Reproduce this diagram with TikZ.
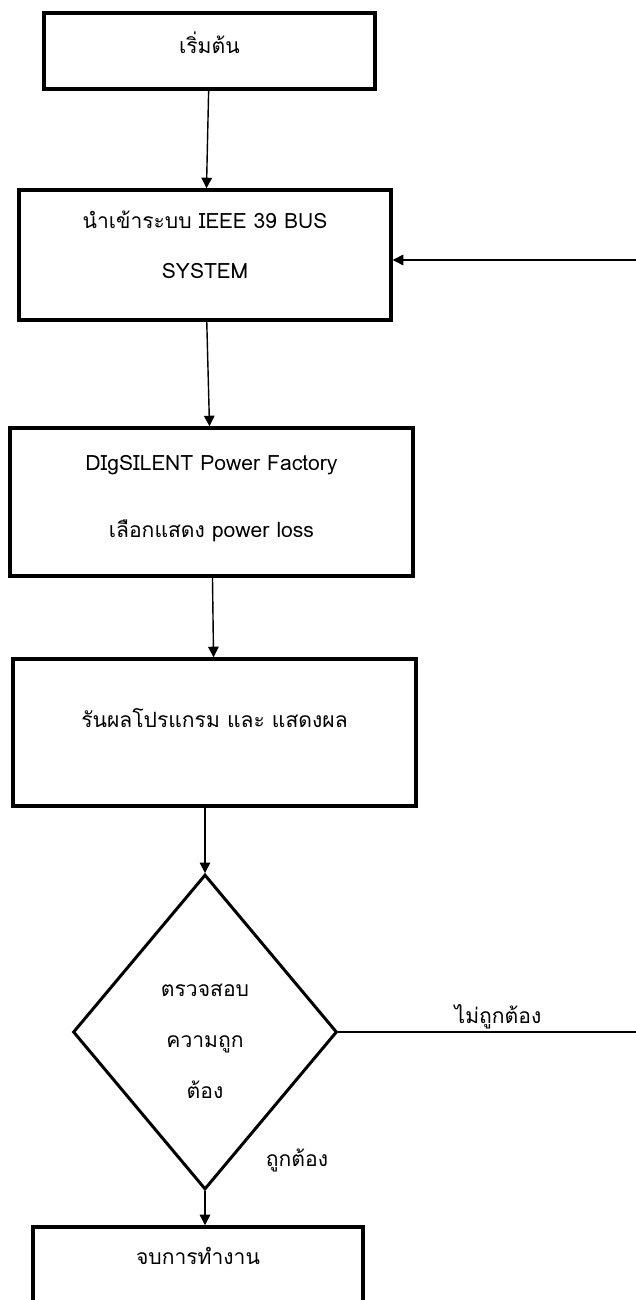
\documentclass[tikz,border=0pt]{standalone}
\usepackage{fontspec}
\setmainfont[Script=Thai]{Loma}
\usetikzlibrary{shapes.geometric,arrows.meta}
\tikzset{
  flowbox/.style={draw, line width=2pt, rectangle, align=center, inner sep=0pt, font=\fontsize{12}{14.4}\selectfont},
  flowdecide/.style={draw, line width=1.7pt, diamond, align=center, inner sep=0pt, font=\fontsize{12}{14.4}\selectfont},
  flowarrow/.style={line width=0.8pt, -{Triangle[length=6pt,width=6pt]}},
  flowlabel/.style={font=\fontsize{12}{14.4}\selectfont}
}

\begin{document}
\begin{tikzpicture}[x=0.02cm, y=-0.02cm]
  \useasboundingbox (0,0) rectangle (635,1300);
  \node[flowbox, minimum width=6.62cm, minimum height=1.52cm, text depth=9pt]
    (start) at (209.5,51) {เริ่มต้น};
  \node[flowbox, minimum width=7.44cm, minimum height=2.6cm, text depth=12pt]
    (import) at (205,255) {นำเข้าระบบ IEEE 39 BUS\\[14pt]SYSTEM};
  \node[flowbox, minimum width=8.06cm, minimum height=2.96cm, text depth=6.5pt]
    (digsilent) at (211.5,502) {DIgSILENT Power Factory\\[24pt]เลือกแสดง power loss};
  \node[flowbox, minimum width=8.06cm, minimum height=2.94cm, text depth=16.5pt]
    (run) at (214.5,732.5) {รันผลโปรแกรม และ แสดงผล};
  \node[flowdecide, minimum width=5.28cm, minimum height=6.3cm]
    (check) at (205,1032) {\rule{0pt}{18pt}ตรวจสอบ\\[14.5pt]ความถูก\\[14.5pt]ต้อง};
  \node[flowbox, minimum width=6.6cm, minimum height=1.52cm, text depth=10pt]
    (finish) at (198,1265) {จบการทำงาน};
  \coordinate (back) at (640,260);

  \draw[flowarrow] (start) -- (import);
  \draw[flowarrow] (import) -- (digsilent);
  \draw[flowarrow] (digsilent) -- (run);
  \draw[flowarrow] (run.south -| check.north) -- (check.north);
  \draw[flowarrow] (check.south) -- (finish.north -| check.south);
  \draw[flowarrow] (check.east) -- (check.east -| back) -- (back) -- (back -| import.east);

  \node[flowlabel] (wrong) at (498,1017) {ไม่ถูกต้อง};
  \node[flowlabel] (right) at (297,1160) {ถูกต้อง};
\end{tikzpicture}
\end{document}
